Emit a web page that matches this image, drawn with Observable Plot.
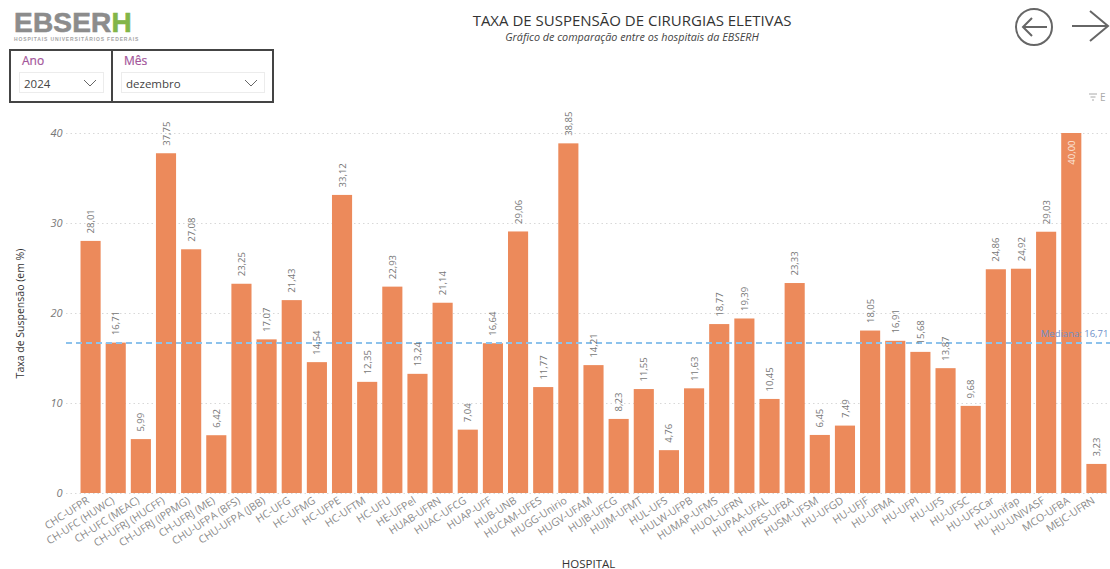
<!DOCTYPE html>
<html lang="pt">
<head>
<meta charset="utf-8">
<script src="https://cdn.jsdelivr.net/npm/d3@7"></script>
<script src="https://cdn.jsdelivr.net/npm/@observablehq/plot@0.6"></script>
<style>
html,body{margin:0;padding:0;background:#fff;overflow:hidden}
body{width:1110px;height:569px;font-family:"Open Sans",sans-serif}
#hdr{position:relative;width:1110px;height:105px;overflow:hidden}
#hdr>*{position:absolute}
.logo{left:14px;top:13px;font:900 28px/20px "Liberation Sans",sans-serif;color:#8c8c8c;-webkit-text-stroke:.6px;letter-spacing:.2px}
.logo b{color:#82b548;font-weight:900}
.logosub{left:14px;top:36px;font:bold 5px/6px "Liberation Sans",sans-serif;color:#a5a5a5;letter-spacing:.85px;white-space:nowrap}
.title{left:332px;width:600px;top:10px;text-align:center;font:15px/20px "Open Sans",sans-serif;color:#333}
.sub{left:332px;width:600px;top:30px;text-align:center;font:italic 10.8px/14px "Open Sans",sans-serif;color:#444}
.slicer{top:49px;height:54px;border:2px solid #444;box-sizing:border-box}
.slicer .lab{position:absolute;left:11px;top:2px;font:12px/16px "Open Sans",sans-serif;color:#a3559a;-webkit-text-stroke:.2px}
.slicer .box{position:absolute;left:8px;top:21px;height:21px;border:1px solid #ececec;font:11.5px/21px "Open Sans",sans-serif;color:#444;padding-left:4px;box-sizing:border-box}
.slicer svg{position:absolute;right:6px;top:6px}
.fe{left:1100px;top:91px;font:10px/12px "Open Sans",sans-serif;color:#aaa}
</style>
</head>
<body>
<div id="hdr">
  <div class="logo">EBSER<b>H</b></div>
  <div class="logosub">HOSPITAIS UNIVERSITÁRIOS FEDERAIS</div>
  <div class="slicer" style="left:9px;width:104px"><div class="lab">Ano</div>
    <div class="box" style="width:85px">2024<svg width="14" height="8" viewBox="0 0 14 8"><path d="M1 1l6 6 6-6" fill="none" stroke="#666"/></svg></div></div>
  <div class="slicer" style="left:111px;width:163px"><div class="lab">Mês</div>
    <div class="box" style="width:144px">dezembro<svg width="14" height="8" viewBox="0 0 14 8"><path d="M1 1l6 6 6-6" fill="none" stroke="#666"/></svg></div></div>
  <div class="title">TAXA DE SUSPENSÃO DE CIRURGIAS ELETIVAS</div>
  <div class="sub">Gráfico de comparação entre os hospitais da EBSERH</div>
  <svg style="left:1010px;top:5px" width="100" height="44" viewBox="0 0 100 44" fill="none" stroke="#666" stroke-width="2">
    <circle cx="24" cy="22" r="18"/><path d="M37 22H13M22 13l-9 9 9 9"/><path d="M62 21H98M80 6l18 15-18 15"/>
  </svg>
  <svg style="left:1088px;top:93px" width="10" height="8" viewBox="0 0 10 8" fill="none" stroke="#aaa"><path d="M1 1H9M2.500 4H7.500M4 7H6"/></svg>
  <div class="fe">E</div>
</div>
<div id="chart"></div>
<script>
const hospitals = ["CHC-UFPR","CH-UFC (HUWC)","CH-UFC (MEAC)","CH-UFRJ (HUCFF)","CH-UFRJ (IPPMG)","CH-UFRJ (ME)","CHU-UFPA (BFS)","CHU-UFPA (JBB)","HC-UFG","HC-UFMG","HC-UFPE","HC-UFTM","HC-UFU","HE-UFPel","HUAB-UFRN","HUAC-UFCG","HUAP-UFF","HUB-UNB","HUCAM-UFES","HUGG-Unirio","HUGV-UFAM","HUJB-UFCG","HUJM-UFMT","HUL-UFS","HULW-UFPB","HUMAP-UFMS","HUOL-UFRN","HUPAA-UFAL","HUPES-UFBA","HUSM-UFSM","HU-UFGD","HU-UFJF","HU-UFMA","HU-UFPI","HU-UFS","HU-UFSC","HU-UFSCar","HU-Unifap","HU-UNIVASF","MCO-UFBA","MEJC-UFRN"];
const taxas = [28.01,16.71,5.99,37.75,27.08,6.42,23.25,17.07,21.43,14.54,33.12,12.35,22.93,13.24,21.14,7.04,16.64,29.06,11.77,38.85,14.21,8.23,11.55,4.76,11.63,18.77,19.39,10.45,23.33,6.45,7.49,18.05,16.91,15.68,13.87,9.68,24.86,24.92,29.03,40.00,3.23];
const mediana = [16.71];
const yTicks = [0,10,20,30,40];

const rows = hospitals.map((h,i)=>({h, v:taxas[i]}));
const fmt = v => v.toFixed(2).replace(".",",");
const outside = rows.filter(d=>d.v<40);
const inside = rows.filter(d=>d.v>=40);

const plot = Plot.plot({
  width:1110, height:464,
  marginTop:28, marginBottom:76, marginLeft:66, marginRight:0,
  style:{fontFamily:"'Open Sans',sans-serif", background:"transparent", overflow:"hidden"},
  x:{type:"band", domain:hospitals, range:[78,1109], round:false, paddingInner:0.2, paddingOuter:0.1},
  y:{domain:[0,40], range:[388,28]},
  marks:[
    Plot.gridY(yTicks,{stroke:"#d8d8d8", strokeOpacity:1, strokeDasharray:"1.500 3"}),
    Plot.barY(rows,{x:"h", y:"v", fill:"#ec8a5b"}),
    Plot.ruleY(mediana,{stroke:"#8cc2ec", strokeWidth:2, strokeDasharray:"6 4"}),
    Plot.text(outside,{x:"h", y:"v", text:d=>fmt(d.v), rotate:-90, textAnchor:"start", dy:-8, fontSize:9.5, fill:"#777"}),
    Plot.text(inside,{x:"h", y:"v", text:d=>fmt(d.v), rotate:-90, textAnchor:"end", dy:7, fontSize:9.5, fill:"#fbe9df"}),
    Plot.text(mediana,{x:()=>"MCO-UFBA", y:d=>d, text:d=>"Mediana: "+fmt(d), textAnchor:"start", dx:-31, dy:-9, fontSize:9.5, fill:"#6d8fc9"}),
    Plot.axisY({ticks:yTicks, tickSize:0, tickPadding:4, fontSize:11, color:"#777", fontStyle:"italic",
      label:"Taxa de Suspensão (em %)", labelAnchor:"center", labelArrow:"none", labelOffset:50, tickFormat:d=>d}),
    Plot.axisX({tickSize:0, tickRotate:-33, tickPadding:6, fontSize:10.5, color:"#8a8a8a", dx:-3,
      label:"HOSPITAL", labelAnchor:"center", labelArrow:"none", labelOffset:74})
  ]
});
document.getElementById("chart").appendChild(plot);
d3.select(plot).selectAll("[aria-label='y-axis label'] text, [aria-label='x-axis label'] text").attr("fill","#333").attr("font-style","normal");
d3.select(plot).selectAll("[aria-label='y-axis label'] text").attr("font-size",10.5);
d3.select(plot).selectAll("[aria-label='x-axis label'] text").attr("font-size",11.5);
</script>
</body>
</html>
